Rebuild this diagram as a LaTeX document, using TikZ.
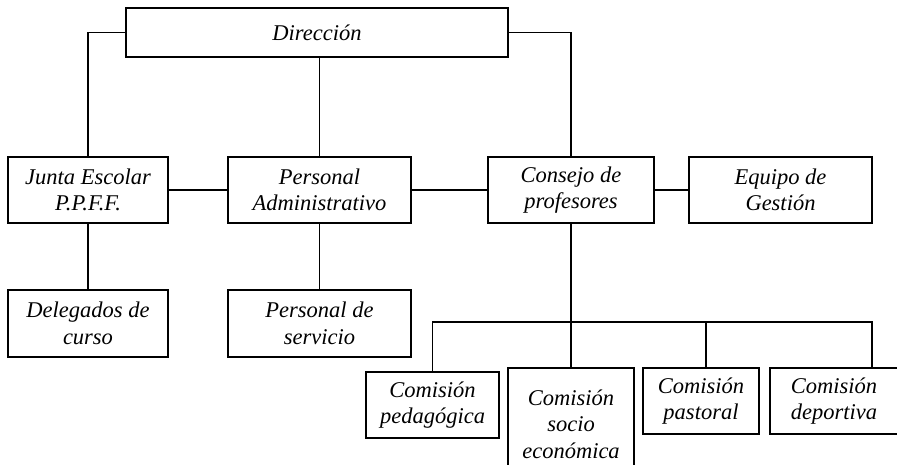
\documentclass[tikz,border=0pt]{standalone}
\usepackage{fontspec}
\setmainfont{Liberation Serif}
\begin{document}
\begin{tikzpicture}[x=1pt,y=-1pt,
  orgbox/.style={draw=black, line width=1.4pt, align=center, inner sep=0pt,
    font=\fontsize{22.5}{26.5}\selectfont\itshape},
  conn/.style={draw=black, line width=1.4pt}]
\useasboundingbox (0,0) rectangle (897,465);
% top
\node[orgbox, minimum width=382pt, minimum height=49pt] (dir) at (317,32.5) {Dirección};
% second row
\node[orgbox, minimum width=160pt, minimum height=66pt] (junta) at (88,190) {Junta Escolar\\P.P.F.F.};
\node[orgbox, minimum width=183pt, minimum height=66pt] (padm) at (319.5,190) {Personal\\Administrativo};
\node[orgbox, minimum width=166pt, minimum height=66pt] (cons) at (571,190) {Consejo de\\profesores};
\node[orgbox, minimum width=183pt, minimum height=66pt] (equi) at (780.5,190) {Equipo de\\Gestión};
% third row
\node[orgbox, minimum width=160pt, minimum height=67pt] (dele) at (88,323.5) {Delegados de\\curso};
\node[orgbox, minimum width=183pt, minimum height=67pt] (pser) at (319.5,323.5) {Personal de\\servicio};
% commissions
\node[orgbox, minimum width=133pt, minimum height=66pt] (cped) at (432.5,405) {Comisión\\pedagógica};
\node[orgbox, minimum width=126pt, minimum height=112pt] (csoc) at (571,424) {Comisión\\socio\\económica};
\node[orgbox, minimum width=116pt, minimum height=66pt] (cpas) at (701,401) {Comisión\\pastoral};
\node[orgbox, minimum width=128pt, minimum height=66pt] (cdep) at (834,401) {Comisión\\deportiva};
% connectors
\draw[conn] (dir.west) -| (junta.north);
\draw[conn] (padm.north) -- (padm.north |- dir.south);
\draw[conn] (dir.east) -| (cons.north);
\draw[conn] (junta.east) -- (padm.west);
\draw[conn] (padm.east) -- (cons.west);
\draw[conn] (cons.east) -- (equi.west);
\draw[conn] (junta.south) -- (dele.north);
\draw[conn] (padm.south) -- (pser.north);
\coordinate (dp3) at (706,322);
\coordinate (dp4) at (872,322);
\draw[conn] (cons.south) -- (csoc.north);
\draw[conn] (cped.north) |- (dp4) -- (dp4 |- cdep.north);
\draw[conn] (dp3) -- (dp3 |- cpas.north);
\end{tikzpicture}
\end{document}
